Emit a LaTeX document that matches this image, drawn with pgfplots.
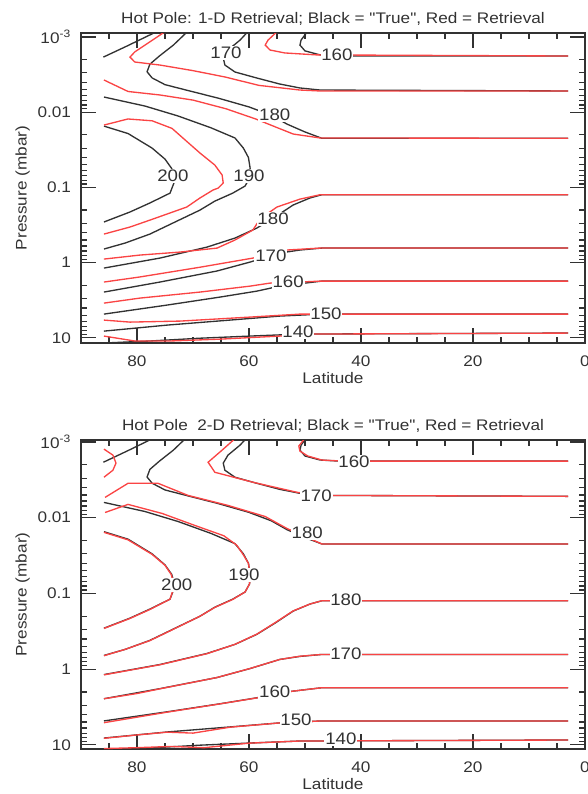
\documentclass[border=0pt]{standalone}
\usepackage{pgfplots}
\usepackage{pgfplotstable}
\pgfplotsset{compat=1.18}
\usepackage{fontspec}
\setmainfont{Liberation Sans}[FakeStretch=1.12, Ligatures=TeXOff]
\definecolor{cblk}{RGB}{50,50,50}
\definecolor{cred}{RGB}{250,68,68}
\definecolor{ctxt}{RGB}{50,50,50}

% ---- "True" contours (black), lat / pressure (mbar)
\pgfplotstableread{
lat p
86.0 0.00185
81.8 0.00132
76.5 0.00085
}\BkA
\pgfplotstableread{
lat p
71.0 0.00085
73.5 0.00128
76.0 0.00179
77.7 0.00230
78.2 0.00290
77.3 0.00350
75.0 0.00430
71.1 0.00510
65.5 0.00650
60.0 0.00850
56.0 0.0110
53.2 0.0144
50.0 0.0183
47.0 0.0222
3.0 0.0222
}\BkB
\pgfplotstableread{
lat p
60.2 0.00085
61.6 0.00110
63.75 0.00149
64.6 0.00190
64.3 0.00236
62.5 0.00292
58.6 0.00351
54.5 0.00422
50.9 0.00476
47.3 0.00507
3.0 0.00522
}\BkC
\pgfplotstableread{
lat p
49.6 0.00085
50.7 0.00110
50.9 0.00128
50.0 0.00153
47.3 0.00173
43.75 0.00179
3.0 0.00179
}\BkD
\pgfplotstableread{
lat p
85.9 0.00628
78.6 0.00827
72.7 0.0112
66.8 0.0161
62.5 0.0220
61.0 0.0300
60.1 0.0400
59.8 0.0552
59.9 0.0750
60.7 0.0958
62.9 0.119
66.1 0.152
68.75 0.200
73.2 0.288
77.7 0.417
82.1 0.548
85.9 0.659
}\BkE
\pgfplotstableread{
lat p
85.9 0.0153
81.6 0.0192
77.3 0.0300
75.0 0.0420
73.8 0.0560
73.2 0.0798
74.1 0.119
77.7 0.161
81.25 0.212
85.9 0.288
}\BkF
\pgfplotstableread{
lat p
85.9 1.18
75.9 0.869
67.5 0.621
62.5 0.471
58.6 0.347
55.4 0.248
52.1 0.171
49.1 0.138
47.0 0.125
3.0 0.125
}\BkG
\pgfplotstableread{
lat p
85.9 2.46
75.9 1.81
65.7 1.29
59.8 0.982
54.5 0.745
50.9 0.679
47.0 0.640
3.0 0.640
}\BkH
\pgfplotstableread{
lat p
85.9 4.83
74.6 3.66
65.2 2.87
58.6 2.39
54.5 2.05
50.0 1.87
47.0 1.76
3.0 1.76
}\BkI
\pgfplotstableread{
lat p
85.9 8.13
74.6 6.76
63.4 5.80
54.5 5.13
47.0 4.83
3.0 4.83
}\BkJ
\pgfplotstableread{
lat p
85.9 11.7
77.7 11.0
68.75 10.1
59.8 9.46
50.9 8.90
3.0 8.63
}\BkK

\tikzset{
  blk/.style={cblk, line width=1pt},
  rd/.style={cred, line width=1pt},
  clab/.style={font=\fontsize{12.5}{14}\selectfont, text=ctxt, fill=white, inner sep=0.6pt},
}
\pgfplotsset{
  every axis/.append style={
    scale only axis, width=378pt,
    xmin=0, xmax=90,
    xtick={0,20,40,60,80}, xticklabels={0,20,40,60,80},
    minor xtick={5,10,15,25,30,35,45,50,55,65,70,75,85},
    tick align=inside,
    major tick length=11pt, minor tick length=4.5pt,
    axis line style={ctxt, line width=1.1pt},
    tick style={ctxt, line width=0.9pt},
    tick label style={font=\fontsize{11.5}{13}\selectfont, text=ctxt},
    yticklabel style={xshift=-4pt},
    xticklabel style={yshift=-6pt},
    label style={font=\fontsize{11.5}{13}\selectfont, text=ctxt},
    title style={font=\fontsize{11.5}{13}\selectfont, text=ctxt, yshift=-3.5pt},
    xlabel={Latitude}, ylabel={Pressure (mbar)},
    xlabel style={yshift=2.5pt},
    ylabel style={yshift=-1pt},
  },
}

\begin{document}
\begin{tikzpicture}
\useasboundingbox (0,0) rectangle (440.25pt,-595.5pt);

% ================= Panel 1 =================
\begin{axis}[at={(60.75pt,-24.75pt)}, anchor=north west, height=232.5pt,
  x dir=reverse, ymode=log, y dir=reverse,
  ymin=0.000885, ymax=11.7,
  ytick={0.001,0.01,0.1,1,10},
  yticklabels={10\textsuperscript{-3},0.01,0.1,1,10},
  minor ytick={0.002,0.003,0.004,0.005,0.006,0.007,0.008,0.009,0.02,0.03,0.04,0.05,0.06,0.07,0.08,0.09,0.2,0.3,0.4,0.5,0.6,0.7,0.8,0.9,2,3,4,5,6,7,8,9},
  title={Hot Pole: 1-D Retrieval; Black = "True", Red = Retrieval}]
\addplot[blk] table[x=lat,y=p] {\BkA};
\addplot[blk] table[x=lat,y=p] {\BkB};
\addplot[blk] table[x=lat,y=p] {\BkC};
\addplot[blk] table[x=lat,y=p] {\BkD};
\addplot[blk] table[x=lat,y=p] {\BkE};
\addplot[blk] table[x=lat,y=p] {\BkF};
\addplot[blk] table[x=lat,y=p] {\BkG};
\addplot[blk] table[x=lat,y=p] {\BkH};
\addplot[blk] table[x=lat,y=p] {\BkI};
\addplot[blk] table[x=lat,y=p] {\BkJ};
\addplot[blk] table[x=lat,y=p] {\BkK};
\addplot[rd] coordinates {(55.0,0.00085) (56.6,0.00110) (57.1,0.00128) (56.25,0.00149) (53.6,0.00163) (47.9,0.00173) (3,0.00179)};
\addplot[rd] coordinates {(75.0,0.00085) (77.7,0.00116) (80.4,0.00158) (81.25,0.00185) (80.4,0.00215) (75.9,0.00236) (70.0,0.00280) (64.3,0.00340) (58.2,0.00440) (50.9,0.00507) (47.3,0.00522) (3,0.00522)};
\addplot[rd] coordinates {(85.9,0.00373) (81.6,0.00530) (75.9,0.00590) (70.0,0.00690) (64.1,0.00900) (58.8,0.0123) (55.0,0.0160) (52.1,0.0195) (47.3,0.0220) (3,0.0222)};
\addplot[rd] coordinates {(85.9,0.0148) (81.6,0.0123) (77.3,0.0130) (73.75,0.0164) (71.4,0.0234) (68.75,0.0349) (66.1,0.0504) (64.8,0.0684) (64.6,0.0873) (65.5,0.102) (66.4,0.108) (68.75,0.138) (71.1,0.182) (77.7,0.272) (81.25,0.336) (85.9,0.417)};
\addplot[rd] coordinates {(85.9,0.896) (79.5,0.793) (72.3,0.723) (65.7,0.640) (62.5,0.50) (59.3,0.368) (58.0,0.26) (55.0,0.182) (50.9,0.143) (47.3,0.125) (3,0.125)};
\addplot[rd] coordinates {(85.9,1.81) (79.5,1.55) (68.75,1.15) (59.3,0.869) (56.25,0.769) (53.2,0.679) (47.3,0.640) (3,0.640)};
\addplot[rd] coordinates {(85.9,3.45) (79.5,2.96) (68.75,2.46) (59.8,2.05) (56.25,1.87) (50.9,1.81) (47.3,1.76) (3,1.76)};
\addplot[rd] coordinates {(85.9,5.80) (81.25,6.17) (72.3,5.98) (59.8,5.29) (50.9,4.83) (3,4.83)};
\addplot[rd] coordinates {(85.9,9.46) (80.4,11.0) (74.1,11.0) (65.2,10.4) (54.5,9.46) (48.6,8.90) (3,8.63)};
\node[clab] at (axis cs:64.1,0.00163) {170};
\node[clab] at (axis cs:44.3,0.00173) {160};
\node[clab] at (axis cs:55.4,0.0109) {180};
\node[clab] at (axis cs:73.6,0.0705) {200};
\node[clab] at (axis cs:60.0,0.0705) {190};
\node[clab] at (axis cs:55.7,0.263) {180};
\node[clab] at (axis cs:56.1,0.817) {170};
\node[clab] at (axis cs:53.0,1.81) {160};
\node[clab] at (axis cs:46.25,4.83) {150};
\node[clab] at (axis cs:51.25,8.37) {140};
\end{axis}

% ================= Panel 2 =================
\begin{axis}[at={(60.75pt,-330pt)}, anchor=north west, height=231.75pt,
  x dir=reverse, ymode=log, y dir=reverse,
  ymin=0.000941, ymax=11.35,
  ytick={0.001,0.01,0.1,1,10},
  yticklabels={10\textsuperscript{-3},0.01,0.1,1,10},
  minor ytick={0.002,0.003,0.004,0.005,0.006,0.007,0.008,0.009,0.02,0.03,0.04,0.05,0.06,0.07,0.08,0.09,0.2,0.3,0.4,0.5,0.6,0.7,0.8,0.9,2,3,4,5,6,7,8,9},
  title={Hot Pole\ \ 2-D Retrieval; Black = "True", Red = Retrieval}]
\addplot[blk] table[x=lat,y=p] {\BkA};
\addplot[blk] table[x=lat,y=p] {\BkB};
\addplot[blk] table[x=lat,y=p] {\BkC};
\addplot[blk] table[x=lat,y=p] {\BkD};
\addplot[blk] table[x=lat,y=p] {\BkE};
\addplot[blk] table[x=lat,y=p] {\BkF};
\addplot[blk] table[x=lat,y=p] {\BkG};
\addplot[blk] table[x=lat,y=p] {\BkH};
\addplot[blk] table[x=lat,y=p] {\BkI};
\addplot[blk] table[x=lat,y=p] {\BkJ};
\addplot[blk] table[x=lat,y=p] {\BkK};
\addplot[rd] coordinates {(49.8,0.00085) (51.1,0.00113) (50.9,0.00132) (49.5,0.00153) (47.0,0.00173) (43,0.00179) (3,0.00179)};
\addplot[rd] coordinates {(62.1,0.00085) (64.8,0.00128) (67.3,0.00185) (66.1,0.00251) (59.3,0.00340) (51.4,0.00462) (47.3,0.00507) (3,0.00522)};
\addplot[rd] coordinates {(85.9,0.00124) (84.3,0.00149) (83.75,0.00190) (84.3,0.00236) (85.9,0.00292)};
\addplot[rd] coordinates {(85.7,0.00539) (81.6,0.00351) (76.25,0.00351) (70.9,0.00507) (63.75,0.00688) (57.1,0.00964) (53.2,0.0139) (47.0,0.0222) (3,0.0222)};
\addplot[rd] coordinates {(85.7,0.00853) (81.6,0.00667) (75.5,0.00879) (69.6,0.0127) (64.5,0.0173) (62.2,0.0230) (61.0,0.0310) (60.1,0.0400) (59.8,0.0552) (59.9,0.0750) (60.7,0.0958) (62.9,0.120) (66.1,0.153) (68.75,0.200) (73.2,0.290) (77.7,0.420) (82.1,0.548) (85.9,0.665)};
\addplot[rd] coordinates {(85.9,0.0156) (81.6,0.0196) (77.3,0.0305) (75.0,0.0425) (73.9,0.0560) (73.3,0.0790) (74.1,0.119) (77.7,0.163) (81.25,0.214) (85.9,0.290)};
\addplot[rd] coordinates {(85.9,1.19) (75.9,0.875) (67.5,0.625) (62.5,0.47) (58.6,0.345) (55.4,0.245) (52.1,0.170) (49.1,0.138) (47.0,0.125) (3,0.125)};
\addplot[rd] coordinates {(85.9,2.46) (80,2.10) (75.9,1.82) (65.7,1.29) (59.8,0.98) (54.5,0.745) (50.9,0.675) (47.0,0.640) (3,0.640)};
\addplot[rd] coordinates {(85.9,5.1) (74.6,3.70) (65.2,2.88) (58.6,2.40) (54.5,2.05) (50.0,1.87) (47.0,1.76) (3,1.76)};
\addplot[rd] coordinates {(85.9,8.2) (80,7.4) (74.6,6.8) (70,7.0) (63.4,5.85) (54.5,5.13) (47.0,4.83) (3,4.83)};
\addplot[rd] coordinates {(85.9,11.2) (80,10.9) (74,10.5) (68,10.9) (60,9.5) (50.9,8.90) (3,8.63)};
\node[clab] at (axis cs:41.25,0.00184) {160};
\node[clab] at (axis cs:48.0,0.00517) {170};
\node[clab] at (axis cs:49.6,0.0159) {180};
\node[clab] at (axis cs:72.9,0.0775) {200};
\node[clab] at (axis cs:60.9,0.0571) {190};
\node[clab] at (axis cs:42.7,0.120) {180};
\node[clab] at (axis cs:42.7,0.625) {170};
\node[clab] at (axis cs:55.4,2.01) {160};
\node[clab] at (axis cs:51.6,4.6) {150};
\node[clab] at (axis cs:43.6,8.4) {140};
\end{axis}
\end{tikzpicture}
\end{document}
